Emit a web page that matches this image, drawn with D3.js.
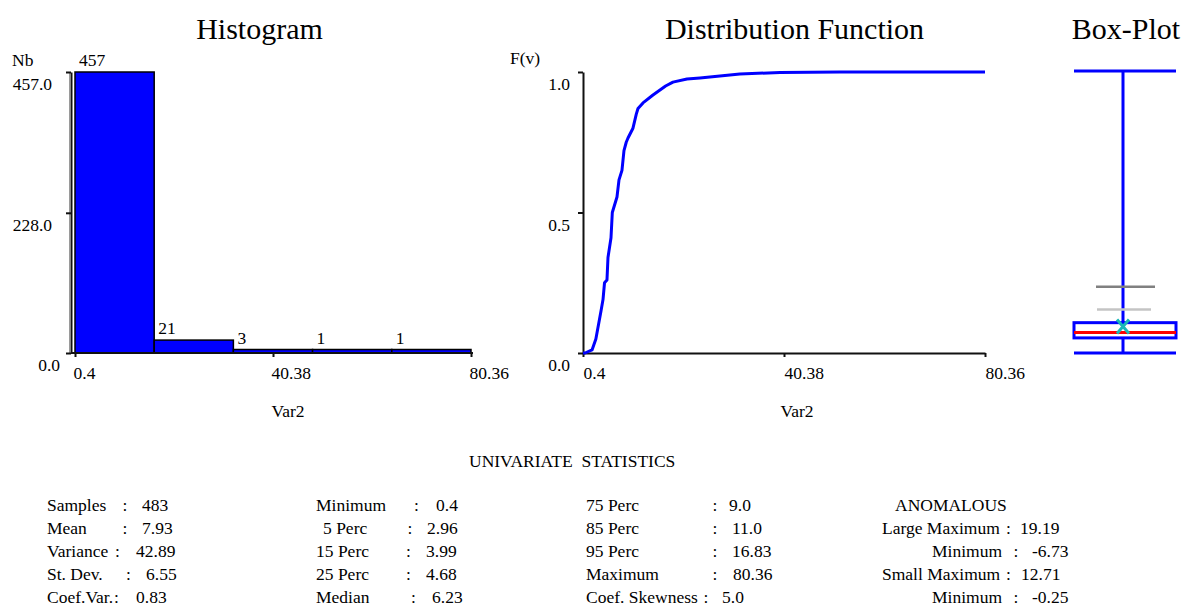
<!DOCTYPE html>
<html>
<head>
<meta charset="utf-8">
<script src="https://cdn.jsdelivr.net/npm/d3@7"></script>
<style>
  html, body { margin: 0; padding: 0; background: #fff; }
  svg { display: block; font-family: "Liberation Serif", "Times New Roman", serif; }
  text { fill: #000; }
</style>
</head>
<body>
<svg id="chart" width="1184" height="607"></svg>
<script>
// ---- data ----
const varName = "Var2";
const valueDomain = [0.4, 80.36];

// histogram: 5 classes
const histEdges = [0.4, 16.39, 32.38, 48.37, 64.37, 80.36];
const histCounts = [457, 21, 3, 1, 1];
const histYTicks = [0, 228, 457];
const xTicks = [0.4, 40.38, 80.36];

// empirical distribution function
const cdfValues = [0.4, 0.8, 2.2, 2.96, 3.99, 4.38, 4.68, 5.17, 5.37, 5.97, 6.23, 7.16, 7.56, 8.15, 8.55, 9.0,
                   9.35, 10.34, 11.0, 11.34, 12.33, 14.32, 16.83, 18.29, 21.08, 23.66, 31.6, 39.6, 51.5, 80.36];
const cdfProbs  = [0, 0, 0.011, 0.05, 0.15, 0.19, 0.25, 0.26, 0.34, 0.41, 0.50, 0.555, 0.616, 0.65, 0.72, 0.75,
                   0.765, 0.80, 0.85, 0.87, 0.89, 0.918, 0.95, 0.964, 0.975, 0.979, 0.993, 0.998, 1.0, 1.0];
const cdfYTicks = [0, 0.5, 1];

// box-plot summary
const boxMin = 0.4, boxQ1 = 4.68, boxMedian = 6.23, boxQ3 = 9.0, boxMax = 80.36, boxMean = 7.93;
const largeMax = 19.19, smallMax = 12.71;

// univariate statistics table
const statNames1 = ["Samples", "Mean", "Variance", "St. Dev.", "Coef.Var."];
const statVals1  = ["483", "7.93", "42.89", "6.55", "0.83"];
const statNames2 = ["Minimum", "5 Perc", "15 Perc", "25 Perc", "Median"];
const statVals2  = ["0.4", "2.96", "3.99", "4.68", "6.23"];
const statNames3 = ["75 Perc", "85 Perc", "95 Perc", "Maximum", "Coef. Skewness"];
const statVals3  = ["9.0", "11.0", "16.83", "80.36", "5.0"];
const anomHeader = "ANOMALOUS";
const statNames4 = ["Large Maximum", "Minimum", "Small Maximum", "Minimum"];
const statVals4  = ["19.19", "-6.73", "12.71", "-0.25"];

// ---- drawing ----
const svg = d3.select("#chart");
const FS = 17.5;
const BLUE = "#0000ff";

svg.append("rect").attr("width", 1184).attr("height", 607).attr("fill", "#fff");

function title(txt, cx) {
  svg.append("text").attr("x", cx).attr("y", 39).attr("text-anchor", "middle")
    .attr("font-size", 30).text(txt);
}
title("Histogram", 259.5);
title("Distribution Function", 794.5);
title("Box-Plot", 1126);

function styleAxis(g) {
  g.selectAll("path.domain").attr("stroke", "#111").attr("stroke-width", 2);
  g.selectAll(".tick line").attr("stroke", "#111").attr("stroke-width", 2);
  g.selectAll("text").attr("font-size", FS).attr("font-family", "Liberation Serif, serif").attr("fill", "#000");
}

// Histogram
const hx = d3.scaleLinear().domain(valueDomain).range([75, 471]);
const hy = d3.scaleLinear().domain([0, 457]).range([353, 72]);
const bins = histCounts.map((c, i) => ({ c, x0: histEdges[i], x1: histEdges[i + 1] }));
const barH = d => Math.max(hy(0) - hy(d.c), 3.5);

svg.append("g").selectAll("rect").data(bins).join("rect")
  .attr("x", d => hx(d.x0))
  .attr("width", d => hx(d.x1) - hx(d.x0))
  .attr("y", d => hy(0) - barH(d))
  .attr("height", d => barH(d))
  .attr("fill", BLUE).attr("stroke", "#000").attr("stroke-width", 1.5);

svg.append("g").selectAll("text").data(bins).join("text")
  .attr("x", d => hx(d.x0) + 4)
  .attr("y", d => hy(0) - barH(d) - 6)
  .attr("font-size", FS).text(d => d.c);

// light shadow line beside the count axis
svg.append("line").attr("x1", 69.5).attr("x2", 69.5).attr("y1", 73).attr("y2", 353)
  .attr("stroke", "#9a9a9a").attr("stroke-width", 1);
const hyAxis = svg.append("g").attr("transform", "translate(71,0)")
  .call(d3.axisLeft(hy).tickValues(histYTicks).tickSize(5).tickSizeOuter(0).tickFormat(d3.format(".1f")));
styleAxis(hyAxis);
hyAxis.selectAll("text").attr("x", d => d === 0 ? -11 : -19).attr("dy", 17.5);

const hxAxis = svg.append("g").attr("transform", "translate(0,353)")
  .call(d3.axisBottom(hx).tickValues(xTicks).tickSize(4).tickSizeOuter(0).tickFormat(d => String(d)));
styleAxis(hxAxis);
hxAxis.select("path.domain").attr("d", `M71,0H${hx(valueDomain[1]) + 2}`);
hxAxis.selectAll("text").attr("text-anchor", "start").attr("x", -2).attr("y", 26).attr("dy", 0);

svg.append("text").attr("x", 12).attr("y", 66).attr("font-size", FS).text("Nb");
svg.append("text").attr("x", 288).attr("y", 417).attr("text-anchor", "middle").attr("font-size", FS).text(varName);

// Distribution function
const dx = d3.scaleLinear().domain(valueDomain).range([583, 985]);
const dy = d3.scaleLinear().domain([0, 1]).range([353, 72]);

const dyAxis = svg.append("g").attr("transform", "translate(583,0)")
  .call(d3.axisLeft(dy).tickValues(cdfYTicks).tickSize(5).tickSizeOuter(0).tickFormat(d3.format(".1f")));
styleAxis(dyAxis);
dyAxis.selectAll("text").attr("x", -13).attr("dy", 17.5);

const dxAxis = svg.append("g").attr("transform", "translate(0,353)")
  .call(d3.axisBottom(dx).tickValues(xTicks).tickSize(4).tickSizeOuter(0).tickFormat(d => String(d)));
styleAxis(dxAxis);
dxAxis.selectAll("text").attr("text-anchor", "start").attr("x", 0).attr("y", 26).attr("dy", 0);

const cdfPts = cdfValues.map((v, i) => [v, cdfProbs[i]]);
svg.append("path").datum(cdfPts)
  .attr("d", d3.line().x(d => dx(d[0])).y(d => dy(d[1])))
  .attr("fill", "none").attr("stroke", BLUE).attr("stroke-width", 3).attr("stroke-linejoin", "round");

svg.append("text").attr("x", 510).attr("y", 64).attr("font-size", FS).text("F(v)");
svg.append("text").attr("x", 797).attr("y", 417).attr("text-anchor", "middle").attr("font-size", FS).text(varName);

// Box-plot
const by = d3.scaleLinear().domain(valueDomain).range([353, 71]);
const bx0 = 1074, bx1 = 1176, bxc = 1123;
const bp = svg.append("g");
bp.append("line").attr("x1", bxc).attr("x2", bxc).attr("y1", by(boxMin)).attr("y2", by(boxMax))
  .attr("stroke", BLUE).attr("stroke-width", 3);
[boxMin, boxMax].forEach(v => bp.append("line").attr("x1", bx0).attr("x2", bx1)
  .attr("y1", by(v)).attr("y2", by(v)).attr("stroke", BLUE).attr("stroke-width", 3));
bp.append("line").attr("x1", 1096).attr("x2", 1155).attr("y1", by(largeMax)).attr("y2", by(largeMax))
  .attr("stroke", "#808080").attr("stroke-width", 2.5);
bp.append("line").attr("x1", 1097).attr("x2", 1151).attr("y1", by(smallMax)).attr("y2", by(smallMax))
  .attr("stroke", "#c4c4c4").attr("stroke-width", 2.5);
bp.append("rect").attr("x", bx0).attr("width", bx1 - bx0)
  .attr("y", by(boxQ3)).attr("height", by(boxQ1) - by(boxQ3))
  .attr("fill", "#fff").attr("stroke", BLUE).attr("stroke-width", 3);
bp.append("line").attr("x1", bx0).attr("x2", bx1).attr("y1", by(boxMedian)).attr("y2", by(boxMedian))
  .attr("stroke", "#ff0000").attr("stroke-width", 3);
const my = by(boxMean), mkx = 6, mky = 7;
bp.append("path").attr("d", `M${bxc - mkx},${my - mky}L${bxc + mkx},${my + mky}M${bxc + mkx},${my - mky}L${bxc - mkx},${my + mky}`)
  .attr("stroke", "#19b8b8").attr("stroke-width", 3);

// Statistics table
svg.append("text").attr("x", 469).attr("y", 467).attr("font-size", FS)
  .attr("xml:space", "preserve").style("white-space", "pre").text("UNIVARIATE  STATISTICS");

const rowY = [511, 534, 557, 580, 603];
function statColumn(names, vals, rows, labelX, colonX, valueX) {
  names.forEach((n, i) => {
    svg.append("text").attr("x", labelX[i]).attr("y", rows[i]).attr("font-size", FS).text(n);
    svg.append("text").attr("x", colonX[i]).attr("y", rows[i]).attr("font-size", FS).text(":");
    svg.append("text").attr("x", valueX[i]).attr("y", rows[i]).attr("font-size", FS).text(vals[i]);
  });
}
statColumn(statNames1, statVals1, rowY, [47, 47, 47, 47, 47], [122.5, 122.5, 115, 126, 114], [142, 142, 136, 146, 136]);
statColumn(statNames2, statVals2, rowY, [316, 323, 316, 316, 316], [414, 407.5, 406, 406, 411], [436, 427, 426, 426, 432]);
statColumn(statNames3, statVals3, rowY, [586, 586, 586, 586, 586], [712.5, 712.5, 712.5, 712.5, 703.5], [729, 732, 732, 733, 722]);
svg.append("text").attr("x", 895).attr("y", rowY[0]).attr("font-size", FS).text(anomHeader);
statColumn(statNames4, statVals4, rowY.slice(1), [882, 932, 882, 932], [1006, 1013.5, 1006, 1013.5], [1020, 1032, 1021, 1032]);
</script>
</body>
</html>
